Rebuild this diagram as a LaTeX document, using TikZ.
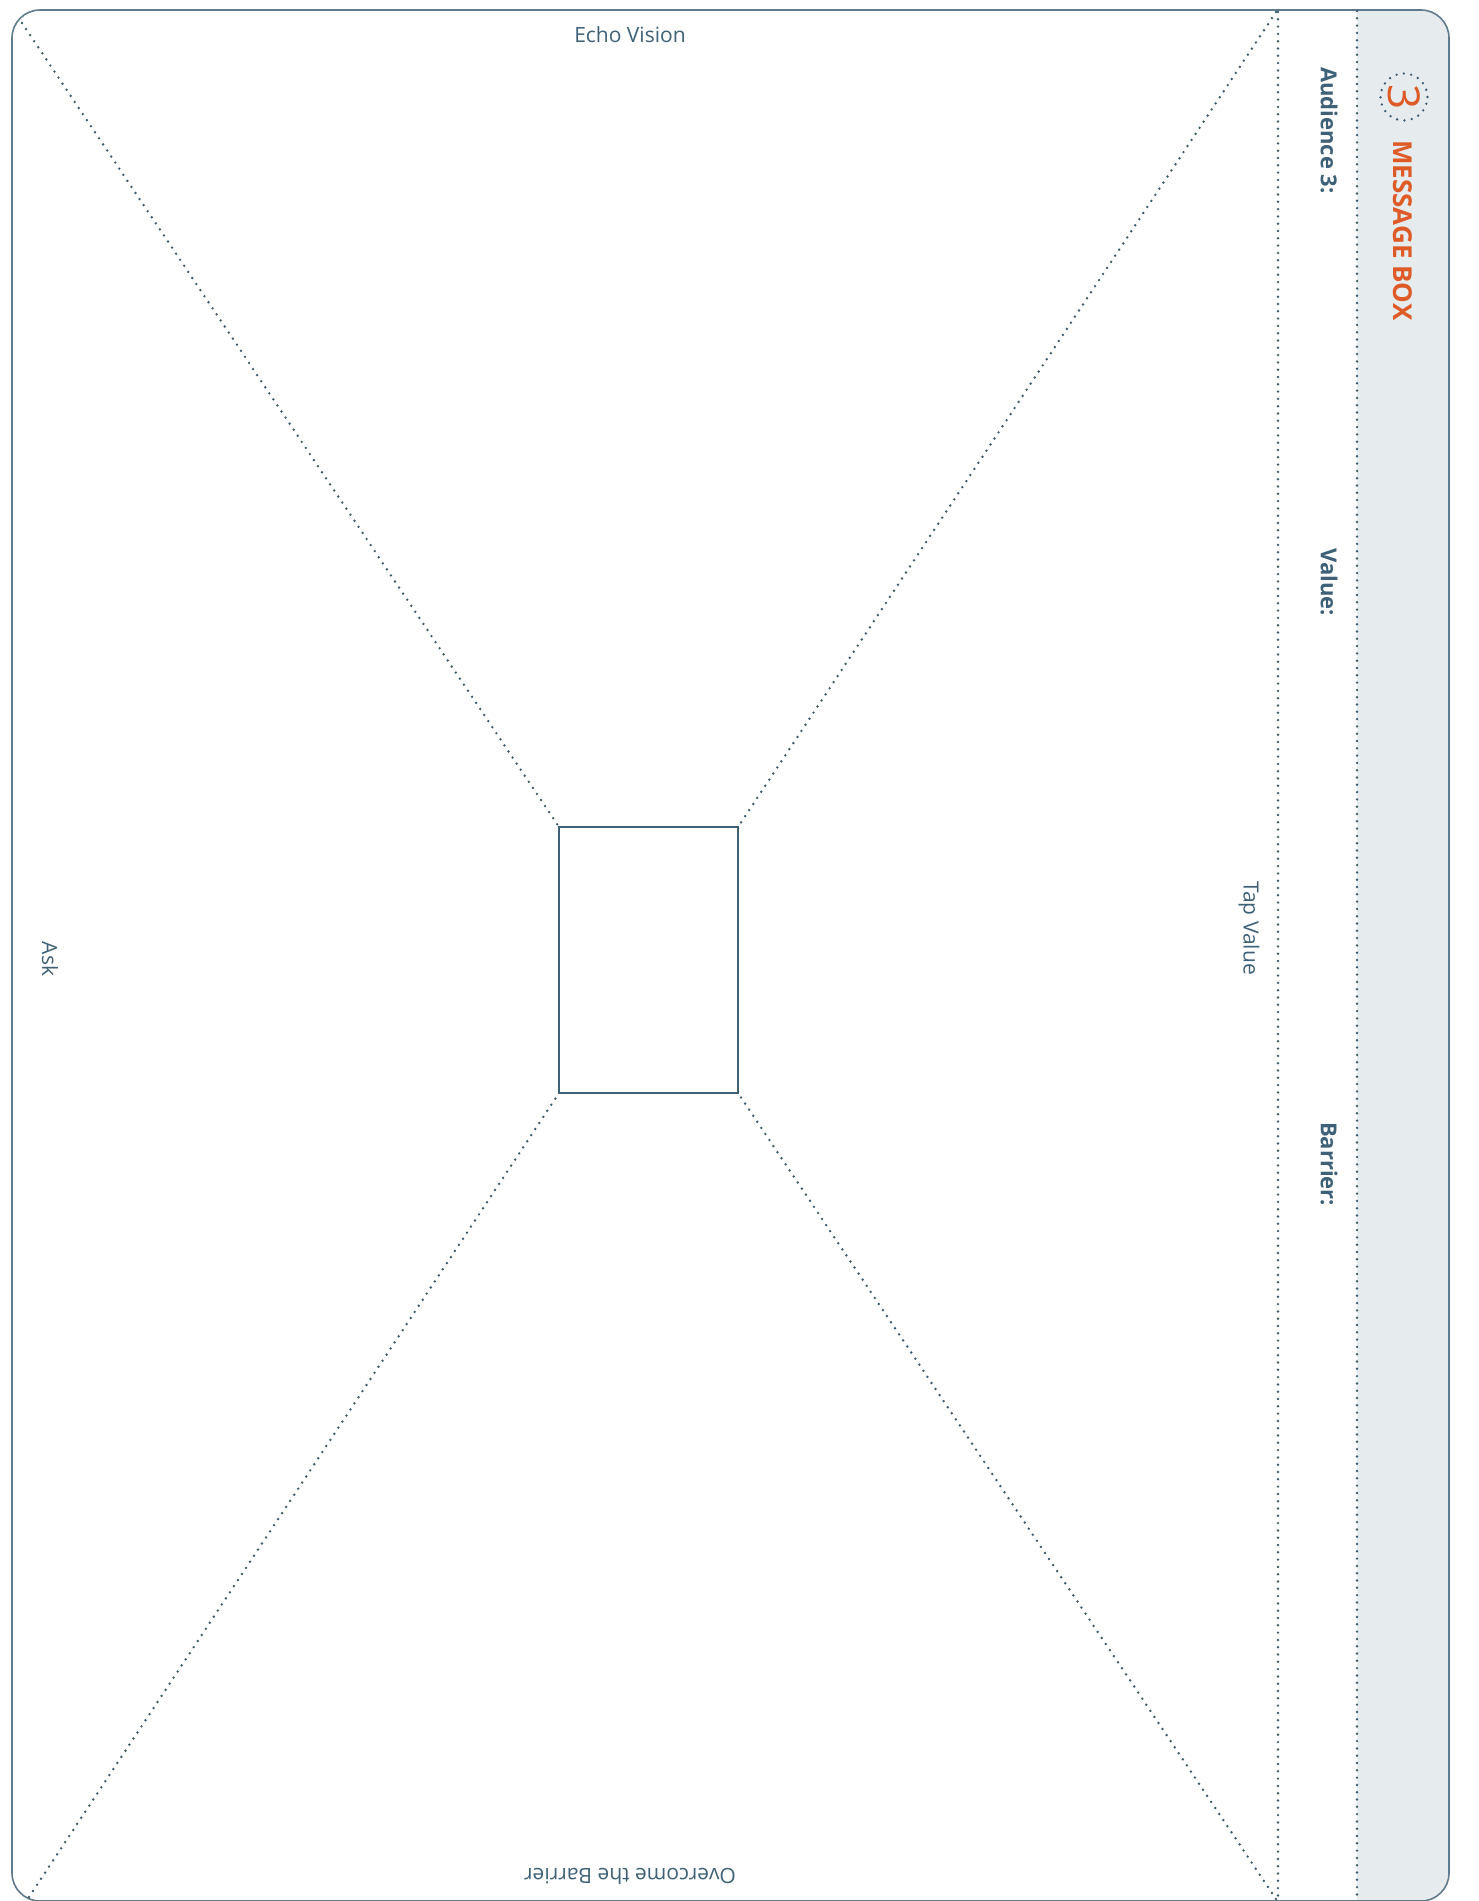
\documentclass[tikz,border=0pt]{standalone}
\usepackage{fontspec}
\setmainfont{Open Sans}
\definecolor{textblue}{HTML}{3E6177}
\definecolor{dotblue}{HTML}{3A5A70}
\definecolor{framec}{HTML}{5F7B8D}
\definecolor{msgorange}{HTML}{DE5A26}
\definecolor{bandgray}{HTML}{E6ECEE}
\tikzset{
  dotline/.style={draw=dotblue, line width=2.7pt, line cap=round, dash pattern=on 0pt off 7.3pt},
  plainlabel/.style={text=textblue, inner sep=0pt, font=\fontsize{21}{25}\selectfont},
  boldlabel/.style={text=textblue, inner sep=0pt, font=\fontsize{22}{26}\selectfont\bfseries, rotate=-90, anchor=west},
}
\begin{document}
\begin{tikzpicture}[x=1pt,y=-1pt]
\useasboundingbox (0,0) rectangle (1478,1901);
% band
\begin{scope}
\clip[rounded corners=28pt] (12,10) rectangle (1449,1901);
\fill[bandgray] (1357,0) rectangle (1470,1910);
\end{scope}
% frame
\draw[framec, line width=1.6pt, rounded corners=28pt] (12,10) rectangle (1449,1901);
% coordinates
\coordinate (tl) at (22,23);
\coordinate (tr) at (1276,12);
\coordinate (bl) at (29,1897);
\coordinate (br) at (1276,1899);
\coordinate (v1t) at (1278,12);
\coordinate (v1b) at (1278,1900);
\coordinate (v2t) at (1357,11);
\coordinate (v2b) at (1357,1900);
% center box
\node[draw=textblue, line width=2pt, minimum width=179pt, minimum height=266pt, inner sep=0pt, outer sep=0pt] (box) at (648.5,960) {};
% diagonals
\draw[dotline] (tl) -- (box.north west);
\draw[dotline] (tr) -- (box.north east);
\draw[dotline] (bl) -- (box.south west);
\draw[dotline] (br) -- (box.south east);
% verticals
\draw[dotline] (v1t) -- (v1b);
\draw[dotline] (v2t) -- (v2b);
% labels
\node[plainlabel, anchor=base] (echo) at (630,42) {Echo Vision};
\node[plainlabel, anchor=base, rotate=180] (overcome) at (630,1868) {Overcome the Barrier};
\node[plainlabel, rotate=-90] (tap) at (1249,928) {Tap Value};
\node[plainlabel, rotate=-90] (ask) at (50,959) {Ask};
\node[boldlabel] (aud) at (1329,67) {Audience 3:};
\node[boldlabel] (val) at (1329,548) {Value:};
\node[boldlabel] (bar) at (1329,1122) {Barrier:};
% header
\node[boldlabel, text=msgorange, font=\fontsize{26}{30}\selectfont\bfseries] (msg) at (1403,140) {MESSAGE BOX};
\node[circle, minimum size=47pt, inner sep=0pt, draw=dotblue, line width=2.6pt, line cap=round, dash pattern=on 0pt off 7.4pt] (num) at (1404,97) {};
\node[text=msgorange, rotate=-90, inner sep=0pt, font=\fontsize{44}{48}\selectfont] (three) at (num.center) {3};
\end{tikzpicture}
\end{document}
